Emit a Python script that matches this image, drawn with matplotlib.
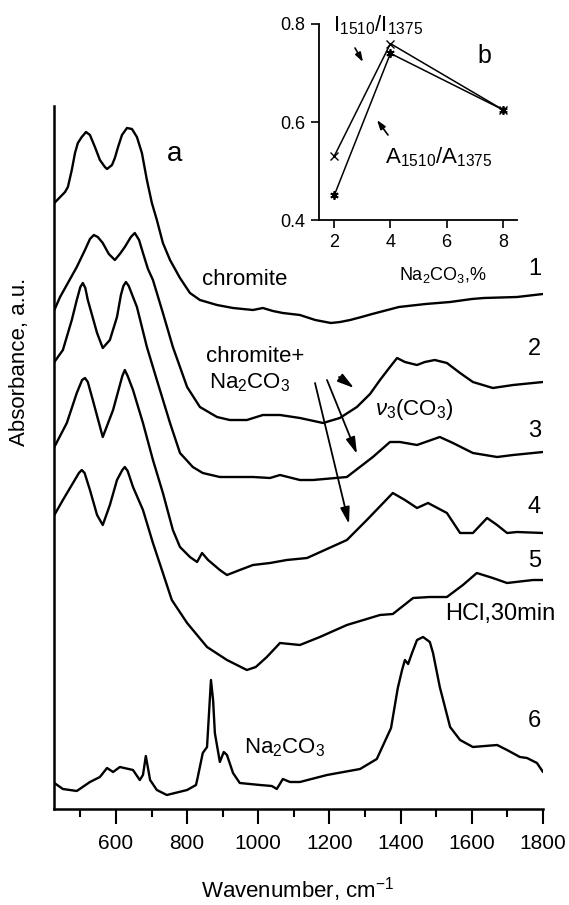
import matplotlib
matplotlib.use('Agg')
import matplotlib.pyplot as plt
from matplotlib.patches import FancyArrowPatch

plt.rcParams['font.family'] = ['Liberation Sans', 'DejaVu Sans']
plt.rcParams['mathtext.fontset'] = 'custom'
plt.rcParams['mathtext.rm'] = 'Liberation Sans'
plt.rcParams['mathtext.it'] = 'Liberation Sans:italic'
plt.rcParams['mathtext.bf'] = 'Liberation Sans:bold'

# ---------------- data (main panel a) ----------------
wn1 = [427, 457, 465, 476, 485, 493, 504, 516, 527, 541, 555, 569, 575, 589, 597, 606, 617, 631,
       645, 659, 673, 687, 701, 715, 732, 752, 780, 808, 836, 884, 929, 985, 1013, 1041, 1069,
       1117, 1160, 1204, 1230, 1258, 1290, 1320, 1395, 1470, 1539, 1600, 1634, 1727, 1800]
ab1 = [6.06, 6.17, 6.22, 6.39, 6.56, 6.66, 6.72, 6.77, 6.74, 6.62, 6.49, 6.42, 6.40, 6.44, 6.51,
       6.62, 6.74, 6.81, 6.80, 6.72, 6.56, 6.29, 6.06, 5.89, 5.66, 5.49, 5.31, 5.16, 5.09, 5.04,
       5.01, 4.99, 5.01, 4.98, 4.96, 4.94, 4.89, 4.86, 4.87, 4.89, 4.92, 4.95, 5.02, 5.05, 5.07,
       5.10, 5.11, 5.12, 5.15]

wn2 = [427, 443, 465, 490, 513, 527, 538, 549, 563, 580, 597, 611, 625, 642, 653, 665, 676, 690,
       704, 732, 760, 800, 836, 884, 920, 968, 1013, 1061, 1117, 1182, 1229, 1277, 1314, 1342,
       1370, 1390, 1412, 1446, 1468, 1496, 1530, 1567, 1603, 1659, 1716, 1800]
ab2 = [4.99, 5.12, 5.26, 5.42, 5.59, 5.70, 5.74, 5.72, 5.66, 5.55, 5.49, 5.55, 5.62, 5.72, 5.76,
       5.69, 5.56, 5.40, 5.29, 4.96, 4.62, 4.22, 4.02, 3.92, 3.89, 3.89, 3.94, 3.94, 3.91, 3.86,
       3.91, 4.02, 4.15, 4.29, 4.42, 4.51, 4.47, 4.44, 4.47, 4.49, 4.46, 4.36, 4.27, 4.21, 4.24,
       4.27]

wn3 = [427, 451, 476, 490, 500, 507, 514, 521, 547, 563, 583, 603, 614, 621, 628, 636, 659, 687,
       715, 752, 780, 816, 844, 892, 985, 1033, 1061, 1117, 1154, 1249, 1322, 1370, 1398, 1446,
       1510, 1547, 1603, 1671, 1716, 1800]
ab3 = [4.47, 4.59, 4.89, 5.09, 5.22, 5.26, 5.21, 5.09, 4.76, 4.61, 4.69, 4.92, 5.14, 5.23, 5.27,
       5.23, 5.02, 4.62, 4.29, 3.86, 3.56, 3.42, 3.36, 3.32, 3.32, 3.31, 3.34, 3.29, 3.29, 3.32,
       3.52, 3.67, 3.67, 3.64, 3.72, 3.66, 3.56, 3.52, 3.54, 3.57]

wn4 = [427, 462, 490, 505, 513, 521, 535, 563, 592, 618, 625, 633, 648, 676, 704, 732, 760, 780,
       808, 828, 842, 859, 892, 912, 948, 985, 1033, 1080, 1137, 1249, 1305, 1378, 1412, 1446,
       1477, 1530, 1567, 1603, 1643, 1671, 1699, 1727, 1800]
ab4 = [3.62, 3.86, 4.16, 4.29, 4.31, 4.27, 4.09, 3.72, 3.99, 4.33, 4.39, 4.33, 4.19, 3.86, 3.49,
       3.16, 2.79, 2.62, 2.52, 2.47, 2.56, 2.49, 2.39, 2.34, 2.39, 2.44, 2.46, 2.49, 2.51, 2.69,
       2.89, 3.16, 3.09, 3.01, 3.06, 2.96, 2.76, 2.76, 2.91, 2.84, 2.76, 2.77, 2.76]

wn5 = [427, 451, 476, 496, 504, 512, 527, 547, 563, 583, 603, 618, 625, 633, 648, 676, 704, 732,
       757, 800, 856, 912, 968, 993, 1024, 1061, 1117, 1173, 1249, 1342, 1378, 1435, 1482, 1530,
       1575, 1614, 1659, 1699, 1772, 1800]
ab5 = [2.94, 3.09, 3.24, 3.36, 3.39, 3.36, 3.19, 2.94, 2.84, 3.04, 3.29, 3.39, 3.42, 3.38, 3.22,
       2.99, 2.66, 2.36, 2.09, 1.86, 1.62, 1.49, 1.39, 1.42, 1.52, 1.66, 1.64, 1.72, 1.84, 1.94,
       1.95, 2.11, 2.12, 2.12, 2.24, 2.36, 2.31, 2.26, 2.29, 2.29]

wn6 = [427, 451, 490, 527, 555, 575, 592, 611, 648, 667, 676, 684, 696, 715, 743, 800, 825, 830,
       844, 856, 867, 873, 878, 892, 903, 912, 929, 948, 1005, 1038, 1052, 1069, 1089, 1117, 1193,
       1286, 1333, 1373, 1392, 1404, 1412, 1421, 1432, 1446, 1463, 1482, 1491, 1510, 1539, 1567,
       1603, 1671, 1699, 1735, 1755, 1783, 1800]
ab6 = [0.26, 0.20, 0.18, 0.27, 0.32, 0.41, 0.37, 0.42, 0.39, 0.29, 0.34, 0.53, 0.29, 0.19, 0.14,
       0.19, 0.24, 0.32, 0.56, 0.62, 1.29, 1.09, 0.76, 0.47, 0.57, 0.54, 0.36, 0.26, 0.24, 0.23,
       0.20, 0.30, 0.27, 0.27, 0.34, 0.40, 0.50, 0.81, 1.21, 1.39, 1.49, 1.45, 1.56, 1.69, 1.72,
       1.67, 1.56, 1.22, 0.82, 0.69, 0.62, 0.64, 0.59, 0.52, 0.51, 0.46, 0.37]

spectra = [(wn1, ab1), (wn2, ab2), (wn3, ab3), (wn4, ab4), (wn5, ab5), (wn6, ab6)]
curve_labels = ['1', '2', '3', '4', '5', '6']

x_major = [600, 800, 1000, 1200, 1400, 1600, 1800]
x_minor = [500, 700, 900, 1100, 1300, 1500, 1700]

# ---------------- data (inset b) ----------------
na2co3_pct = [2, 4, 8]
ratio_I = [0.53, 0.76, 0.625]
ratio_A = [0.45, 0.74, 0.625]
inset_xticks = [2, 4, 6, 8]
inset_yticks = [0.4, 0.6, 0.8]

# ---------------- figure ----------------
W, H = 569, 905
fig = plt.figure(figsize=(W / 100, H / 100), dpi=100)
fig.patch.set_facecolor('white')


def fp(x, y):
    return (x / W, 1 - y / H)


def axrect(l, t, r, b):
    return [l / W, 1 - b / H, (r - l) / W, (b - t) / H]


ax = fig.add_axes(axrect(54, 106, 543, 809))
for wn, ab in spectra:
    ax.plot(wn, ab, color='black', lw=1.7, solid_joinstyle='round', solid_capstyle='round')
ax.set_xlim(426, 1800)
ax.set_ylim(0, 7.03)
for s in ['top', 'right']:
    ax.spines[s].set_visible(False)
for s in ['left', 'bottom']:
    ax.spines[s].set_linewidth(1.8)
ax.set_yticks([])
ax.set_xticks(x_major)
ax.set_xticks(x_minor, minor=True)
ax.set_xticklabels([str(v) for v in x_major], fontsize=15)
ax.tick_params(axis='x', which='major', direction='out', length=11, width=1.5, pad=7)
ax.tick_params(axis='x', which='minor', direction='out', length=6, width=1.5)
ax.set_facecolor('none')

fig.text(*fp(298, 897), 'Wavenumber, cm$^{-1}$', fontsize=16, ha='center', va='baseline')
fig.text(*fp(20, 362), 'Absorbance, a.u.', fontsize=16, ha='center', va='center', rotation=90)

# curve numbers
num_baselines = [275, 355, 437, 513, 567, 727]
for lab, yb in zip(curve_labels, num_baselines):
    fig.text(*fp(541, yb), lab, fontsize=17, ha='right', va='baseline')

fig.text(*fp(175, 161), 'a', fontsize=20, ha='center', va='baseline')
fig.text(*fp(202, 285), 'chromite', fontsize=16, ha='left', va='baseline')
fig.text(*fp(255, 362), 'chromite+', fontsize=16, ha='center', va='baseline')
fig.text(*fp(250, 388), 'Na$_2$CO$_3$', fontsize=16, ha='center', va='baseline')
fig.text(*fp(375, 415), r'$\nu_3$(CO$_3$)', fontsize=16, ha='left', va='baseline')
fig.text(*fp(445, 620), 'HCl,30min', fontsize=17, ha='left', va='baseline')
fig.text(*fp(244, 753), 'Na$_2$CO$_3$', fontsize=16, ha='left', va='baseline')

main_arrow = dict(arrowstyle='-|>,head_length=1.0,head_width=0.28', color='black', lw=1.3,
                  mutation_scale=10, shrinkA=0, shrinkB=0)
for (x0, y0, x1, y1) in [(339, 377, 354, 388), (327, 380, 357, 454), (315, 383, 349, 524)]:
    fig.add_artist(FancyArrowPatch(fp(x0, y0), fp(x1, y1), transform=fig.transFigure, **main_arrow))

# ---------------- inset ----------------
axi = fig.add_axes(axrect(319, 24, 517, 220))
axi.plot(na2co3_pct, ratio_I, color='black', lw=1.1, marker='x', ms=6, mew=1.0)
axi.plot(na2co3_pct, ratio_A, color='black', lw=1.1, marker=(6, 2, 0), ms=6, mew=1.3)
axi.set_xlim(1.46, 8.5)
axi.set_ylim(0.4, 0.8)
for s in ['top', 'right']:
    axi.spines[s].set_visible(False)
for s in ['left', 'bottom']:
    axi.spines[s].set_linewidth(1.3)
axi.set_xticks(inset_xticks)
axi.set_yticks(inset_yticks)
axi.set_xticklabels([str(v) for v in inset_xticks], fontsize=13)
axi.set_yticklabels(['%.1f' % v for v in inset_yticks], fontsize=13)
axi.tick_params(direction='out', length=6, width=1.2, pad=4)
axi.set_facecolor('none')

fig.text(*fp(333, 31), 'I$_{1510}$/I$_{1375}$', fontsize=16, ha='left', va='baseline')
fig.text(*fp(385, 163), 'A$_{1510}$/A$_{1375}$', fontsize=16, ha='left', va='baseline')
fig.text(*fp(477, 63), 'b', fontsize=18, ha='left', va='baseline')
fig.text(*fp(399, 280), 'Na$_2$CO$_3$,%', fontsize=13, ha='left', va='baseline')
small_arrow = dict(arrowstyle='-|>,head_length=0.9,head_width=0.3', color='black', lw=1.2,
                   mutation_scale=6, shrinkA=0, shrinkB=0)
for (x0, y0, x1, y1) in [(355, 48, 363, 62), (388, 135, 377, 120)]:
    fig.add_artist(FancyArrowPatch(fp(x0, y0), fp(x1, y1), transform=fig.transFigure, **small_arrow))

fig.savefig('out.png', dpi=100, facecolor='white')
